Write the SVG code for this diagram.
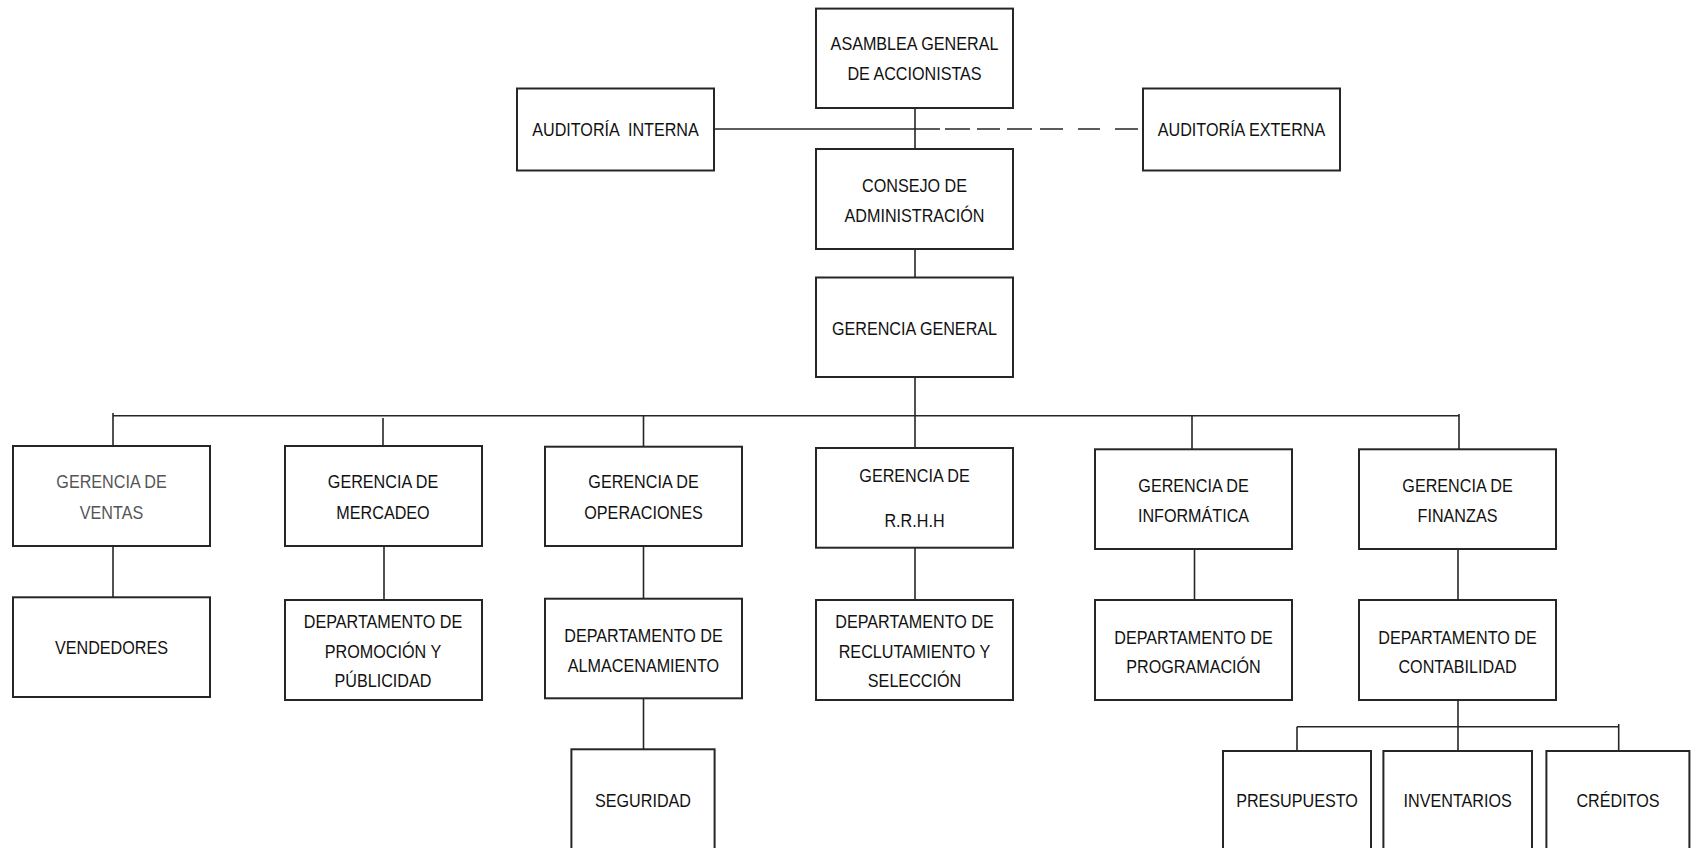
<svg xmlns="http://www.w3.org/2000/svg" width="1693" height="848" viewBox="0 0 1693 848">
<style>
.box{fill:#fff;stroke:#262626;stroke-width:2}
.ln{fill:none;stroke:#262626;stroke-width:1.6}
.dash{fill:none;stroke:#262626;stroke-width:1.6;stroke-dasharray:25 5 25 7 23 7 25 8 23 15 22 15 23 10}
text{font-family:"Liberation Sans",Arial,sans-serif;font-size:19px;fill:#111;text-anchor:middle}
.gray{fill:#555}
</style>
<rect width="1693" height="848" fill="#fff"/>
<g id="connectors">
<line class="ln" x1="915" y1="108" x2="915" y2="149"/>
<line class="ln" x1="714" y1="129" x2="915" y2="129"/>
<line class="dash" x1="915" y1="129" x2="1143" y2="129"/>
<line class="ln" x1="915" y1="249" x2="915" y2="277.5"/>
<line class="ln" x1="915" y1="377" x2="915" y2="448"/>
<line class="ln" x1="113" y1="415.7" x2="1459" y2="415.7"/>
<line class="ln" x1="113" y1="413" x2="113" y2="446"/>
<line class="ln" x1="383" y1="418" x2="383" y2="446"/>
<line class="ln" x1="643.5" y1="415.7" x2="643.5" y2="449"/>
<line class="ln" x1="1192" y1="415.7" x2="1192" y2="449"/>
<line class="ln" x1="1459" y1="414" x2="1459" y2="449"/>
<line class="ln" x1="113" y1="546" x2="113" y2="597"/>
<line class="ln" x1="384" y1="546" x2="384" y2="600"/>
<line class="ln" x1="643.5" y1="546" x2="643.5" y2="599"/>
<line class="ln" x1="915" y1="548" x2="915" y2="600"/>
<line class="ln" x1="1194.5" y1="549" x2="1194.5" y2="600"/>
<line class="ln" x1="1458" y1="549" x2="1458" y2="600"/>
<line class="ln" x1="643.5" y1="698" x2="643.5" y2="749"/>
<line class="ln" x1="1458" y1="700" x2="1458" y2="751"/>
<line class="ln" x1="1297" y1="726.7" x2="1618.7" y2="726.7"/>
<line class="ln" x1="1297" y1="726.7" x2="1297" y2="751"/>
<line class="ln" x1="1618.7" y1="724" x2="1618.7" y2="751"/>
</g>
<g id="asamblea"><rect class="box" x="816" y="8.6" width="197" height="99.4"/>
<text transform="matrix(0.85 0 0 1 914.5 50)">ASAMBLEA GENERAL</text>
<text transform="matrix(0.85 0 0 1 914.5 80)">DE ACCIONISTAS</text></g>
<g id="auditoria-interna"><rect class="box" x="517" y="88.5" width="197" height="82"/>
<text xml:space="preserve" transform="matrix(0.85 0 0 1 615.5 136)">AUDITORÍA  INTERNA</text></g>
<g id="auditoria-externa"><rect class="box" x="1143" y="88.5" width="197" height="82"/>
<text transform="matrix(0.85 0 0 1 1241.5 136)">AUDITORÍA EXTERNA</text></g>
<g id="consejo"><rect class="box" x="816" y="149" width="197" height="100"/>
<text transform="matrix(0.85 0 0 1 914.5 192)">CONSEJO DE</text>
<text transform="matrix(0.85 0 0 1 914.5 222)">ADMINISTRACIÓN</text></g>
<g id="gerencia-general"><rect class="box" x="816" y="277.5" width="197" height="99.5"/>
<text transform="matrix(0.85 0 0 1 914.5 335)">GERENCIA GENERAL</text></g>
<g id="gerencia-ventas"><rect class="box" x="13" y="446" width="197" height="100"/>
<text class="gray" transform="matrix(0.85 0 0 1 111.5 488)">GERENCIA DE</text>
<text class="gray" transform="matrix(0.85 0 0 1 111.5 519)">VENTAS</text></g>
<g id="gerencia-mercadeo"><rect class="box" x="285" y="446" width="197" height="100"/>
<text transform="matrix(0.85 0 0 1 383 488)">GERENCIA DE</text>
<text transform="matrix(0.85 0 0 1 383 519)">MERCADEO</text></g>
<g id="gerencia-operaciones"><rect class="box" x="545" y="446.7" width="197" height="99.3"/>
<text transform="matrix(0.85 0 0 1 643.5 488)">GERENCIA DE</text>
<text transform="matrix(0.85 0 0 1 643.5 519)">OPERACIONES</text></g>
<g id="gerencia-rrhh"><rect class="box" x="816" y="448" width="197" height="99.7"/>
<text transform="matrix(0.85 0 0 1 914.5 482)">GERENCIA DE</text>
<text transform="matrix(0.85 0 0 1 914.5 527)">R.R.H.H</text></g>
<g id="gerencia-informatica"><rect class="box" x="1095" y="449.3" width="197" height="99.7"/>
<text transform="matrix(0.85 0 0 1 1193.5 492)">GERENCIA DE</text>
<text transform="matrix(0.85 0 0 1 1193.5 522)">INFORMÁTICA</text></g>
<g id="gerencia-finanzas"><rect class="box" x="1359" y="449.3" width="197" height="99.7"/>
<text transform="matrix(0.85 0 0 1 1457.5 492)">GERENCIA DE</text>
<text transform="matrix(0.85 0 0 1 1457.5 522)">FINANZAS</text></g>
<g id="vendedores"><rect class="box" x="13" y="597.3" width="197" height="99.7"/>
<text transform="matrix(0.85 0 0 1 111.5 654)">VENDEDORES</text></g>
<g id="promocion"><rect class="box" x="285" y="600" width="197" height="100"/>
<text transform="matrix(0.85 0 0 1 383 628)">DEPARTAMENTO DE</text>
<text transform="matrix(0.85 0 0 1 383 658)">PROMOCIÓN Y</text>
<text transform="matrix(0.85 0 0 1 383 687)">PÚBLICIDAD</text></g>
<g id="almacenamiento"><rect class="box" x="545" y="598.7" width="197" height="99.6"/>
<text transform="matrix(0.85 0 0 1 643.5 642)">DEPARTAMENTO DE</text>
<text transform="matrix(0.85 0 0 1 643.5 672)">ALMACENAMIENTO</text></g>
<g id="reclutamiento"><rect class="box" x="816" y="600" width="197" height="100"/>
<text transform="matrix(0.85 0 0 1 914.5 628)">DEPARTAMENTO DE</text>
<text transform="matrix(0.85 0 0 1 914.5 658)">RECLUTAMIENTO Y</text>
<text transform="matrix(0.85 0 0 1 914.5 687)">SELECCIÓN</text></g>
<g id="programacion"><rect class="box" x="1095" y="600" width="197" height="100"/>
<text transform="matrix(0.85 0 0 1 1193.5 644)">DEPARTAMENTO DE</text>
<text transform="matrix(0.85 0 0 1 1193.5 673)">PROGRAMACIÓN</text></g>
<g id="contabilidad"><rect class="box" x="1359" y="600" width="197" height="100"/>
<text transform="matrix(0.85 0 0 1 1457.5 644)">DEPARTAMENTO DE</text>
<text transform="matrix(0.85 0 0 1 1457.5 673)">CONTABILIDAD</text></g>
<g id="seguridad"><rect class="box" x="571.4" y="749.3" width="143.2" height="120"/>
<text transform="matrix(0.85 0 0 1 643 807)">SEGURIDAD</text></g>
<g id="presupuesto"><rect class="box" x="1223" y="751" width="148" height="120"/>
<text transform="matrix(0.85 0 0 1 1297 807)">PRESUPUESTO</text></g>
<g id="inventarios"><rect class="box" x="1383.4" y="751" width="148.6" height="120"/>
<text transform="matrix(0.85 0 0 1 1457.7 807)">INVENTARIOS</text></g>
<g id="creditos"><rect class="box" x="1546.4" y="751" width="143" height="120"/>
<text transform="matrix(0.85 0 0 1 1618 807)">CRÉDITOS</text></g>
</svg>
